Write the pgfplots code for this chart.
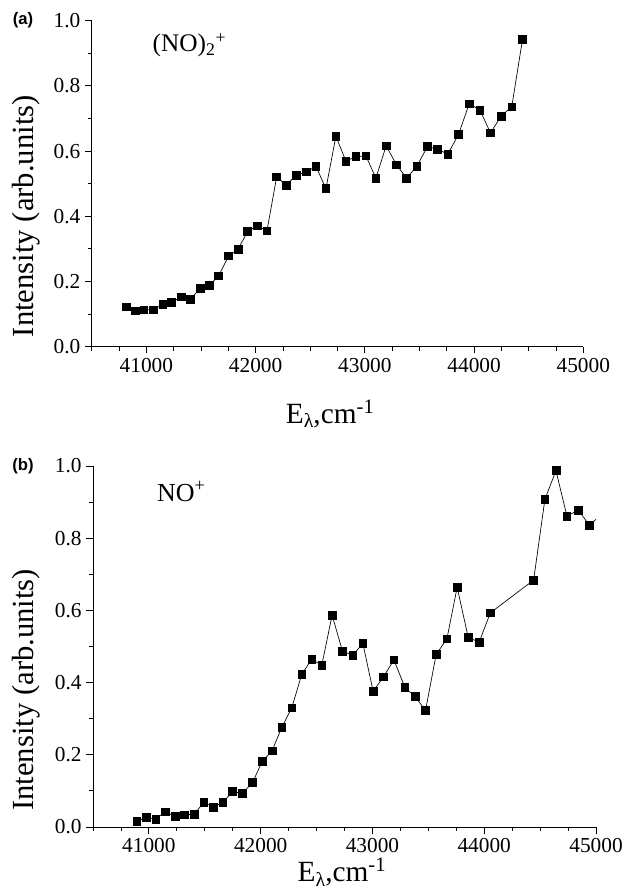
\documentclass[border=0pt]{standalone}
\usepackage{pgfplots}
\pgfplotsset{compat=1.18}
\usepackage{fontspec}
\setmainfont{Liberation Serif}
\newfontfamily\arialfont{Liberation Sans}

\pgfplotsset{
  mystyle/.style={
    scale only axis,
    axis x line*=bottom, axis y line*=left,
    axis line style={-, line width=0.6pt, black},
    xmin=40500, xmax=45000, ymin=0, ymax=1,
    xtick={41000,42000,43000,44000,45000},
    minor xtick={40500,40750,41250,41500,41750,42250,42500,42750,43250,43500,43750,44250,44500,44750},
    scaled x ticks=false,
    ytick={0,0.2,0.4,0.6,0.8,1.0},
    minor ytick={0.1,0.3,0.5,0.7,0.9},
    tick align=outside,
    major tick length=5pt, minor tick length=3pt,
    tick style={black, line width=0.6pt},
    /pgf/number format/assume math mode=true,
    x tick label style={/pgf/number format/1000 sep={}, /pgf/number format/fixed, font=\fontsize{16}{18}\selectfont},
    y tick label style={/pgf/number format/fixed, /pgf/number format/fixed zerofill, /pgf/number format/precision=1, font=\fontsize{16}{18}\selectfont},
    ylabel={Intensity (arb.units)},
    xlabel={E\raisebox{-0.35ex}{\fontsize{15}{16}\selectfont λ},cm\textsuperscript{-1}},
    ylabel style={font=\fontsize{23}{26}\selectfont, anchor=center, rotate=0},
    xlabel style={font=\fontsize{22}{26}\selectfont, anchor=base},
    clip marker paths=true,
  },
  myplot/.style={black, line width=0.5pt, mark=square*, mark size=2.9pt, mark options={solid, fill=black}},
}

\begin{document}
\begin{tikzpicture}
\useasboundingbox (0,0) rectangle (470.25pt,670.5pt);

\begin{axis}[mystyle,
  at={(68.8pt,410.5pt)}, anchor=south west,
  width=368.7pt, height=244.5pt,
  ylabel style={at={(axis description cs:-0.134,0.40)}},
  xlabel style={at={(axis description cs:0.485,-0.235)}},
]
\addplot[myplot] table {
40814 0.122
40896 0.110
40978 0.113
41064 0.113
41150 0.130
41232 0.135
41317 0.153
41402 0.145
41491 0.178
41576 0.188
41662 0.217
41753 0.279
41839 0.299
41927 0.353
42015 0.371
42104 0.355
42193 0.521
42280 0.495
42372 0.526
42463 0.536
42552 0.553
42644 0.485
42735 0.645
42827 0.569
42918 0.583
43010 0.585
43101 0.517
43195 0.616
43290 0.558
43382 0.517
43476 0.554
43574 0.614
43666 0.605
43760 0.591
43858 0.651
43955 0.745
44053 0.726
44150 0.656
44248 0.707
44345 0.736
44443 0.942
};
\node[anchor=base west, font=\fontsize{19}{22}\selectfont] at (axis cs:41015,0.904) {(NO)\textsubscript{2}\textsuperscript{+}};
\end{axis}

\begin{axis}[mystyle,
  at={(69.75pt,50.25pt)}, anchor=south west,
  width=377.25pt, height=270.75pt,
  ylabel style={at={(axis description cs:-0.133,0.38)}},
  xlabel style={at={(axis description cs:0.495,-0.152)}},
]
\addplot[myplot] table {
40893 0.015
40978 0.027
41061 0.022
41148 0.042
41234 0.029
41320 0.034
41404 0.035
41491 0.068
41577 0.055
41661 0.068
41748 0.098
41837 0.093
41927 0.123
42013 0.181
42102 0.211
42189 0.276
42278 0.330
42368 0.423
42457 0.465
42547 0.448
42639 0.587
42732 0.487
42825 0.476
42914 0.509
43006 0.376
43099 0.416
43192 0.463
43290 0.387
43382 0.361
43475 0.323
43570 0.478
43666 0.521
43758 0.664
43857 0.525
43955 0.512
44054 0.593
44442 0.684
44543 0.908
44642 0.987
44740 0.861
44842 0.878
44940 0.836
45040 0.863
};
\node[anchor=base west, font=\fontsize{19.5}{22}\selectfont] at (axis cs:41031,0.901) {NO\textsuperscript{+}};
\end{axis}

\node[font=\arialfont\bfseries\fontsize{12.5}{14}\selectfont] at (17.25pt,655pt) {(a)};
\node[font=\arialfont\bfseries\fontsize{12.5}{14}\selectfont] at (17.25pt,321pt) {(b)};
\end{tikzpicture}
\end{document}
